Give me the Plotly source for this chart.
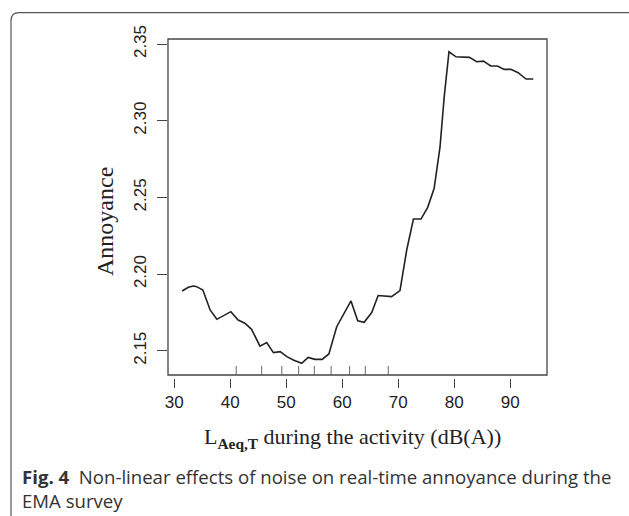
import plotly.graph_objects as go

# Data
noise_db = [31.4, 32.5, 33.4, 34.0, 35.1, 35.8, 36.4, 37.6, 40.1, 41.4, 42.6, 43.8,
            45.3, 46.5, 47.7, 48.9, 50.1, 51.25, 52.75, 53.9, 55.1, 56.4, 57.6, 59.0,
            60.2, 61.55, 62.75, 63.9, 65.25, 66.4, 68.8, 70.3, 71.5, 72.7, 74.05, 75.25,
            76.4, 77.45, 78.2, 79.05, 80.3, 82.7, 84.0, 85.2, 86.5, 87.7, 88.9, 90.1,
            91.4, 92.8, 94.1]
annoyance = [2.189, 2.1914, 2.1922, 2.1918, 2.1896, 2.183, 2.1766, 2.1705, 2.1755, 2.170,
             2.168, 2.164, 2.153, 2.1553, 2.1488, 2.1494, 2.1462, 2.144, 2.1418, 2.1457,
             2.1444, 2.1444, 2.1479, 2.1657, 2.1733, 2.1825, 2.1696, 2.1686, 2.1749, 2.186,
             2.1853, 2.1892, 2.2157, 2.2359, 2.2359, 2.2435, 2.2559, 2.283, 2.3157, 2.345,
             2.3417, 2.3413, 2.3385, 2.3389, 2.3357, 2.3357, 2.3335, 2.3335, 2.3313, 2.3272,
             2.3272]
rug_positions = [41.05, 45.6, 49.2, 52.2, 55.0, 58.0, 61.3, 64.1, 68.2]
x_ticks = [30, 40, 50, 60, 70, 80, 90]
y_ticks = [2.15, 2.20, 2.25, 2.30, 2.35]
y_tick_labels = ["2.15", "2.20", "2.25", "2.30", "2.35"]

W, H = 629, 516
ML, MR, MT, MB = 168, 82, 39, 138
PW, PH = W - ML - MR, H - MT - MB


def px_x(p):
    return (p - ML) / PW


def px_y(p):
    return (H - MB - p) / PH


fig = go.Figure()
fig.add_trace(go.Scatter(x=noise_db, y=annoyance, mode="lines",
                         line=dict(color="#222222", width=1.6), showlegend=False,
                         hoverinfo="skip"))

shapes = []
# plot box
shapes.append(dict(type="rect", xref="x domain", yref="y domain", x0=0, x1=1, y0=0, y1=1,
                   line=dict(color="#444444", width=1.3)))
# rug
for r in rug_positions:
    shapes.append(dict(type="line", xref="x", yref="y domain", x0=r, x1=r, y0=0, y1=0.027,
                       line=dict(color="#666666", width=1)))
# card border (rounded corner)
lx, ty = px_x(11), px_y(12.7)
rx, by = px_x(650), px_y(540)
dx, dy = 8 / PW, 8 / PH
shapes.append(dict(type="path", xref="paper", yref="paper",
                   path=f"M {rx},{ty} L {lx+dx},{ty} Q {lx},{ty} {lx},{ty-dy} L {lx},{by}",
                   line=dict(color="#555555", width=1.2)))

ydom0 = 3 / PH
fig.update_layout(
    width=W, height=H,
    margin=dict(l=ML, r=MR, t=MT, b=MB),
    paper_bgcolor="white", plot_bgcolor="white",
    shapes=shapes,
    xaxis=dict(range=[28.875, 96.55], tickvals=x_ticks, ticks="outside", ticklen=9,
               tickwidth=1.2, tickcolor="#444444", showline=False, showgrid=False,
               zeroline=False, anchor="free", position=0,
               tickfont=dict(family="Liberation Sans, Arial", size=17, color="#222222")),
    yaxis=dict(range=[2.1342, 2.3533], domain=[ydom0, 1], tickvals=y_ticks,
               ticktext=y_tick_labels, ticks="outside", ticklen=10, tickwidth=1.2,
               tickcolor="#444444", showline=False, showgrid=False, zeroline=False,
               tickangle=-90, ticklabelstandoff=4,
               tickfont=dict(family="Liberation Sans, Arial", size=17, color="#222222")),
    annotations=[
        dict(text="Annoyance", xref="paper", yref="paper", x=px_x(105), y=px_y(222),
             textangle=-90, showarrow=False, xanchor="center", yanchor="middle",
             font=dict(family="Liberation Serif, Times New Roman", size=24, color="#222222")),
        dict(text="L<sub><b>Aeq,T</b></sub> during the activity (dB(A))", xref="paper",
             yref="paper", x=px_x(352), y=px_y(438), showarrow=False,
             xanchor="center", yanchor="middle",
             font=dict(family="Liberation Serif, Times New Roman", size=22, color="#222222")),
        dict(text="<b>Fig. 4</b>  Non-linear effects of noise on real-time annoyance during the",
             xref="paper", yref="paper", x=px_x(20), y=px_y(476), showarrow=False,
             xanchor="left", yanchor="middle",
             font=dict(family="Open Sans", size=18.6, color="#333333")),
        dict(text="EMA survey", xref="paper", yref="paper", x=px_x(20), y=px_y(500),
             showarrow=False, xanchor="left", yanchor="middle",
             font=dict(family="Open Sans", size=18.6, color="#333333")),
    ],
)

fig.write_html("out.html", config={"displayModeBar": False},
               post_script="document.body.style.margin='0';document.body.style.overflow='hidden';")
